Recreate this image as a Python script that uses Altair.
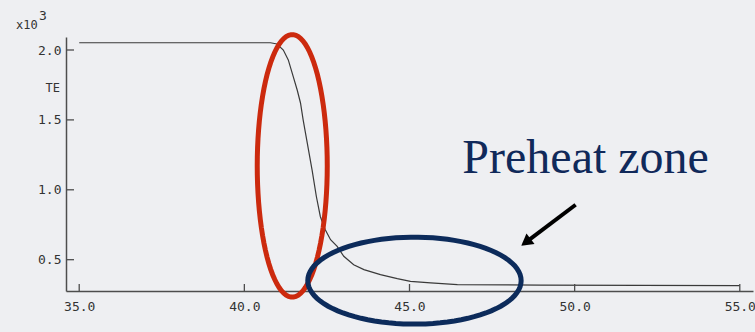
import altair as alt
import pandas as pd

# Temperature profile TE (in units of 10^3) along the axial coordinate
x_pos = [35.0, 40.79, 40.99, 41.18, 41.33, 41.48, 41.60, 41.70, 41.78, 41.85,
         42.05, 42.18, 42.30, 42.45, 42.61, 42.81, 43.01, 43.31, 43.62, 44.12,
         44.63, 45.03, 45.64, 46.45, 48.97, 55.0]
te_k = [2.052, 2.052, 2.043, 2.000, 1.929, 1.809, 1.714, 1.621, 1.500, 1.407,
        1.143, 0.952, 0.809, 0.714, 0.643, 0.595, 0.524, 0.464, 0.429, 0.393,
        0.364, 0.345, 0.334, 0.321, 0.318, 0.314]

x_ticks = [35.0, 40.0, 45.0, 50.0, 55.0]
y_ticks = [0.5, 1.0, 1.5, 2.0]

# Highlight ellipses: centre x, centre y, radius x, radius y (data units)
flame_ellipse = [41.45, 1.171, 1.06, 0.939]
preheat_ellipse = [45.15, 0.350, 3.23, 0.311]

# Arrow pointing at the preheat zone: tail and arrow-head centre (data units)
arrow_tail = [50.03, 0.893]
arrow_head = [48.57, 0.633]

label_text = "Preheat zone"
label_pos = [46.6, 1.121]

X_DOM = [34.6, 55.4]
Y_DOM = [0.276, 2.093]
W, H = 687, 254

BG = "#eeeff2"
AX = "#4d4d4d"
MONO = "DejaVu Sans Mono"

xs = alt.Scale(domain=X_DOM, nice=False, zero=False)
ys = alt.Scale(domain=Y_DOM, nice=False, zero=False)

profile = pd.DataFrame({"x": x_pos, "te": te_k})

curve = alt.Chart(profile).mark_line(color="#3a3a3a", strokeWidth=1.2).encode(
    x=alt.X("x:Q", scale=xs, title=None,
            axis=alt.Axis(values=x_ticks, format=".1f", ticks=False, grid=False,
                          domainColor=AX, domainWidth=1.5, labelFont=MONO,
                          labelFontSize=13, labelColor="#333", labelPadding=9)),
    y=alt.Y("te:Q", scale=ys, title=None,
            axis=alt.Axis(values=y_ticks, format=".1f", ticks=False, grid=False,
                          domainColor=AX, domainWidth=1.5, labelFont=MONO,
                          labelFontSize=13, labelColor="#333", labelPadding=5)),
)

# Inward tick marks on both axes
xtick = alt.Chart(pd.DataFrame({"v": x_ticks})).mark_rule(color=AX, strokeWidth=1.3).encode(
    x=alt.X("v:Q", scale=xs), y=alt.value(H), y2=alt.value(H - 7))
ytick = alt.Chart(pd.DataFrame({"v": y_ticks})).mark_rule(color=AX, strokeWidth=1.3).encode(
    y=alt.Y("v:Q", scale=ys), x=alt.value(0), x2=alt.value(8))


def ellipse(params, color):
    cx, cy, rx, ry = params
    return alt.Chart(alt.sequence(0, 366, 4, as_="deg")).transform_calculate(
        ex=f"{cx} + {rx} * cos(datum.deg * PI / 180)",
        ey=f"{cy} + {ry} * sin(datum.deg * PI / 180)",
    ).mark_line(color=color, strokeWidth=5, strokeCap="round").encode(
        x=alt.X("ex:Q", scale=xs),
        y=alt.Y("ey:Q", scale=ys),
        order=alt.Order("deg:Q"),
    )


red = ellipse(flame_ellipse, "#cc2a0e")
navy = ellipse(preheat_ellipse, "#0c2b5b")

arrow_df = pd.DataFrame({"ax": [arrow_tail[0]], "ay": [arrow_tail[1]],
                         "bx": [arrow_head[0]], "by": [arrow_head[1]]})
shaft = alt.Chart(arrow_df).mark_rule(color="black", strokeWidth=4).encode(
    x=alt.X("ax:Q", scale=xs), y=alt.Y("ay:Q", scale=ys),
    x2="bx:Q", y2="by:Q")
head = alt.Chart(arrow_df).mark_point(shape="triangle", filled=True, color="black",
                                      size=180, angle=233, opacity=1).encode(
    x=alt.X("bx:Q", scale=xs), y=alt.Y("by:Q", scale=ys))

label = alt.Chart(pd.DataFrame({"x": [label_pos[0]], "y": [label_pos[1]], "t": [label_text]})).mark_text(
    font="Liberation Serif", fontSize=48, color="#10295a", align="left", baseline="alphabetic"
).encode(x=alt.X("x:Q", scale=xs), y=alt.Y("y:Q", scale=ys), text="t:N")

te_title = alt.Chart(pd.DataFrame({"t": ["TE"]})).mark_text(
    font=MONO, fontSize=12, color="#333", align="right", baseline="middle"
).encode(x=alt.value(-6), y=alt.value(51), text="t:N")
exp_base = alt.Chart(pd.DataFrame({"t": ["x10"]})).mark_text(
    font=MONO, fontSize=12, color="#333", align="left", baseline="alphabetic"
).encode(x=alt.value(-50), y=alt.value(-8), text="t:N")
exp_sup = alt.Chart(pd.DataFrame({"t": ["3"]})).mark_text(
    font=MONO, fontSize=13, color="#333", align="left", baseline="alphabetic"
).encode(x=alt.value(-27), y=alt.value(-17), text="t:N")

chart = alt.layer(
    curve, xtick, ytick, red, navy, shaft, head, label, te_title, exp_base, exp_sup
).properties(
    width=W, height=H, background=BG,
    padding={"left": 66, "top": 37, "right": 2, "bottom": 41},
    autosize=alt.AutoSizeParams(type="none"),
).configure_view(stroke=None)

chart.save("out.html", embed_options={"renderer": "svg", "actions": False})
